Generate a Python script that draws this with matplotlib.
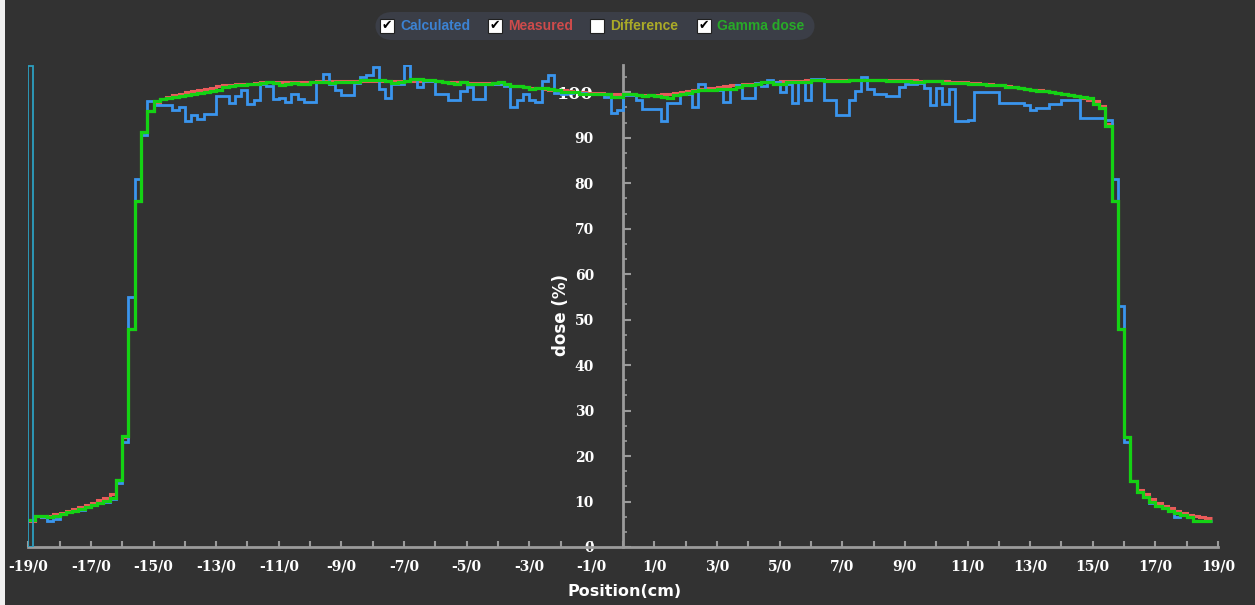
import matplotlib
matplotlib.use("Agg")

import matplotlib.pyplot as plt
import numpy as np
from matplotlib.patches import Rectangle, FancyBboxPatch
from matplotlib.ticker import FixedLocator, FuncFormatter

# bordes de los bins del perfil (cm), bins de 2 mm
edges = np.round(np.arange(-19.0, 18.81, 0.2), 1)

# dosis calculada (%)
calculated = [
    5.9, 6.8, 6.6, 5.8, 6.2, 7.2, 7.6, 8.0, 8.2, 8.8, 9.2, 9.6, 10.0, 10.5, 14.0, 23.0, 55.0, 81.0, 90.5,
    98.1, 97.1, 97.1, 97.1, 96.2, 96.8, 93.7, 94.9, 94.2, 95.3, 95.3, 99.1, 99.1, 97.7, 99.1, 100.6,
    97.4, 98.4, 101.9, 101.3, 98.6, 98.8, 97.9, 99.7,
    98.6, 97.9, 97.9, 102.3, 104.1, 101.9, 100.6, 99.5, 99.5, 102.0, 103.3, 103.9, 105.5, 100.8,
    98.8, 101.8, 101.8, 105.9, 102.9, 101.2, 102.5, 102.5, 99.7, 99.7, 98.2, 98.2, 100.3,
    101.2, 98.6, 98.6, 101.9, 101.9, 101.9, 101.3, 96.7, 98.4, 99.7, 98.4, 97.9, 102.5, 103.9,
    99.9, 99.7, 99.9, 100.0, 99.8, 99.6, 99.7, 99.6, 99.0, 95.4, 96.0,
    99.5, 99.3, 98.2, 96.4, 96.4, 96.4, 93.7, 97.6, 97.6, 99.7, 99.7, 96.7, 101.8, 100.6,
    100.6, 100.6, 97.9, 100.8, 101.5, 98.8, 98.8, 102.1, 101.3, 102.7, 102.2, 100.1, 101.8,
    97.6, 102.3, 98.4, 102.9, 102.9, 98.4, 98.4, 95.1, 95.1, 98.2, 100.3, 103.3, 100.8, 99.7,
    99.7, 99.1, 99.1, 101.2, 101.9, 101.9, 102.1, 101.0, 97.1, 101.0, 97.5, 100.8, 93.7, 93.7,
    93.8, 100.1, 100.1, 100.1, 100.1, 97.6, 97.6, 97.6, 97.6, 97.1, 96.2, 96.5, 96.5, 97.5,
    97.5, 98.4, 98.4, 98.4, 94.4, 94.4, 94.4, 94.4,
    94.0, 81.0, 53.0, 23.1, 14.6, 12.0, 11.1, 9.7, 9.0, 8.5, 7.9, 6.7, 7.0, 6.6, 5.8, 5.8, 5.8,
]

# dosis medida (%)
measured = [
    5.8, 6.9, 6.7, 6.9, 7.2, 7.5, 8.0, 8.4, 8.8, 9.2, 9.7, 10.3, 10.8, 11.6, 14.7, 24.2, 48.0, 76.0, 91.2,
    95.8, 97.6, 98.6, 99.0, 99.3, 99.7, 100.0, 100.3, 100.6, 100.8, 101.0, 101.3, 101.5, 101.6,
    101.8, 101.9, 101.9, 102.1, 102.2, 102.3, 102.3, 102.3, 102.3, 102.3,
    102.3, 102.3, 102.3, 102.4, 102.4, 102.4, 102.4, 102.4, 102.5, 102.5, 102.5, 102.5, 102.5,
    102.5, 102.5, 102.5, 102.5, 102.5, 102.5, 102.4, 102.4, 102.4, 102.4, 102.3, 102.3, 102.2, 102.2,
    102.1, 102.1, 102.0, 102.0, 101.9, 101.8, 101.6, 101.4, 101.3, 101.1, 101.0, 100.9, 100.8,
    100.6, 100.5, 100.4, 100.3, 100.1, 100.0, 99.9, 99.8, 99.8, 99.7, 99.6, 99.6,
    99.6, 99.6, 99.5, 99.5, 99.5, 99.5, 99.6, 99.7, 99.9, 100.1, 100.3, 100.5, 100.7, 100.9,
    101.0, 101.2, 101.3, 101.5, 101.7, 101.8, 101.9, 102.1, 102.2, 102.3, 102.3, 102.4, 102.4,
    102.5, 102.5, 102.6, 102.6, 102.6,
    102.7, 102.7, 102.7, 102.7, 102.7, 102.7, 102.7, 102.7, 102.7, 102.7, 102.7,
    102.6, 102.6, 102.6, 102.6, 102.5, 102.5, 102.5, 102.4, 102.4, 102.3, 102.3,
    102.2, 102.1, 102.0, 101.9, 101.8, 101.7, 101.5, 101.4, 101.2, 101.0, 100.8, 100.6,
    100.4, 100.2, 100.0, 99.8, 99.6, 99.4, 99.1, 98.8, 98.4, 98.0, 97.0,
    93.0, 76.0, 48.0, 24.2, 14.6, 12.6, 11.6, 10.6, 9.6, 9.0, 8.5, 7.9, 7.4, 7.0, 6.8, 6.5, 6.3,
]

# dosis gamma (%)
gamma_dose = [
    5.9, 6.8, 6.8, 6.5, 6.9, 7.2, 7.6, 8.0, 8.4, 8.8, 9.2, 9.7, 10.2, 10.8, 14.7, 24.4, 48.0, 76.0, 91.2,
    95.8, 98.0, 98.5, 98.8, 99.0, 99.2, 99.4, 99.6, 99.9, 100.0, 100.3, 100.4, 101.2, 101.4,
    101.5, 101.7, 101.8, 101.9, 102.0, 102.2, 102.1, 101.6, 101.9, 102.1,
    101.9, 101.9, 102.2, 102.3, 102.2, 102.1, 102.2, 102.3, 102.3, 102.3, 102.6, 102.6, 102.6,
    102.6, 102.5, 102.1, 102.2, 102.5, 102.9, 102.9, 102.6, 102.6, 102.5, 102.2, 102.1, 101.8, 102.2,
    101.9, 101.8, 101.8, 101.9, 102.0, 102.2, 101.8, 101.3, 101.3, 101.2, 100.8, 101.0, 101.0,
    100.8, 100.6, 100.1, 100.1, 100.0, 99.7, 99.7, 99.7, 99.7, 99.6, 98.9, 98.9,
    99.7, 99.6, 99.5, 99.2, 99.3, 99.2, 99.0, 98.8, 99.3, 99.7, 99.9, 100.2, 100.4, 100.5,
    100.6, 100.7, 100.7, 100.7, 101.2, 101.5, 101.5, 101.9, 102.2, 102.2, 101.9, 101.9, 102.2,
    102.3, 102.3, 102.3, 102.6, 102.6, 102.5, 102.5, 102.5, 102.5, 102.6, 102.8, 102.8, 102.6,
    102.6, 102.6, 102.5, 102.5, 102.5, 102.5, 102.2, 102.2, 102.5, 102.5, 102.4, 102.1, 102.1,
    102.1, 102.0, 101.8, 101.8, 101.8, 101.5, 101.5, 101.5, 101.2, 101.2, 101.0, 100.8, 100.6,
    100.3, 100.2, 100.0, 99.9, 99.7, 99.5, 99.2, 99.0, 98.7, 97.5, 96.5,
    92.5, 76.0, 48.0, 24.2, 14.6, 12.2, 11.1, 10.0, 9.0, 8.5, 7.9, 7.4, 7.0, 6.6, 5.8, 5.8, 5.8,
]

# barra de diferencia en el borde izquierdo
diff_x = -19.0
diff_width = 0.16
diff_height = 105.8

fondo = "#323232"
gris = "#9b9b9b"
azul = "#3a95ee"
rojo = "#ec5a5a"
verde = "#14d214"
cian = "#2c9fc0"

W, H = 1255, 605
fig = plt.figure(figsize=(W / 100, H / 100), dpi=100, facecolor=fondo)

# franja clara en el borde izquierdo
fig.patches.append(Rectangle((0, 0), 5 / W, 1, transform=fig.transFigure,
                             facecolor="#f0f0f0", edgecolor="none"))

ax = fig.add_axes([28.3 / W, 58 / H, (1218 - 28.3) / W, (547 - 65) / H])
ax.set_facecolor(fondo)
ax.set_xlim(-19, 19)
ax.set_ylim(0, 106)

ax.bar(diff_x, diff_height, width=diff_width, align="edge", fill=False,
       edgecolor=cian, linewidth=1.3, zorder=5)

ax.stairs(measured, edges, baseline=None, color=rojo, linewidth=2.2, zorder=2)
ax.stairs(calculated, edges, baseline=None, color=azul, linewidth=2.0, zorder=3)
ax.stairs(gamma_dose, edges, baseline=None, color=verde, linewidth=2.3, zorder=4)

# ejes
for lado in ["top", "right"]:
    ax.spines[lado].set_visible(False)
ax.spines["left"].set_position(("data", 0))
ax.spines["left"].set_color(gris)
ax.spines["bottom"].set_color(gris)
ax.spines["left"].set_linewidth(2)
ax.spines["bottom"].set_linewidth(2)
ax.spines["left"].set_zorder(1)

ax.xaxis.set_major_locator(FixedLocator(np.arange(-19, 20, 2)))
ax.xaxis.set_minor_locator(FixedLocator(np.arange(-18, 19, 2)))
ax.xaxis.set_major_formatter(FuncFormatter(lambda v, p: f"{int(round(v))}/0"))
ax.tick_params(axis="x", which="both", direction="in", length=4, width=1.5,
               color=gris, pad=9)
ax.tick_params(axis="x", which="major", labelcolor="white", labelsize=10)

ax.yaxis.set_major_locator(FixedLocator(np.arange(0, 101, 10)))
ax.yaxis.set_minor_locator(FixedLocator(np.arange(0, 106, 10 / 3)))
ax.tick_params(axis="y", which="major", direction="in", length=6, width=1.5,
               color=gris, labelcolor="white", labelsize=10, pad=21)
ax.tick_params(axis="y", which="minor", direction="in", length=3, width=1.2,
               color=gris)

for lab in ax.get_xticklabels() + ax.get_yticklabels():
    lab.set_fontfamily("DejaVu Serif")
    lab.set_fontweight("bold")
ax.get_yticklabels()[-1].set_fontsize(12.5)

ax.text(-1.98, 51, "dose (%)", rotation=90, ha="center", va="center",
        color="white", fontsize=12, fontweight="bold")
fig.text(625 / W, 1 - 592 / H, "Position(cm)", ha="center", va="center",
         color="white", fontsize=11.5, fontweight="bold")

# leyenda tipo casillas
fig.patches.append(FancyBboxPatch((375 / W, 1 - 40 / H), 440 / W, 28 / H,
                                  boxstyle="round,pad=0,rounding_size=0.014",
                                  transform=fig.transFigure, facecolor="#3b3e47",
                                  edgecolor="none", mutation_aspect=W / H))

entradas = [
    (380, "Calculated", "#3c82d2", True),
    (488, "Measured", "#cd4b4b", True),
    (590, "Difference", "#aaaa28", False),
    (697, "Gamma dose", "#28aa28", True),
]
for x0, nombre, color, marcado in entradas:
    fig.patches.append(Rectangle((x0 / W, 1 - 32.5 / H), 13.5 / W, 13.5 / H,
                                 transform=fig.transFigure, facecolor="white",
                                 edgecolor="#202020", linewidth=0.8))
    if marcado:
        fig.text((x0 + 6.7) / W, 1 - 25.8 / H, "\u2714", ha="center", va="center",
                 color="black", fontsize=9)
    fig.text((x0 + 20) / W, 1 - 25.5 / H, nombre, ha="left", va="center",
             color=color, fontsize=10, fontweight="bold", family="Liberation Sans")

fig.savefig("out.png", dpi=100, facecolor=fondo)
